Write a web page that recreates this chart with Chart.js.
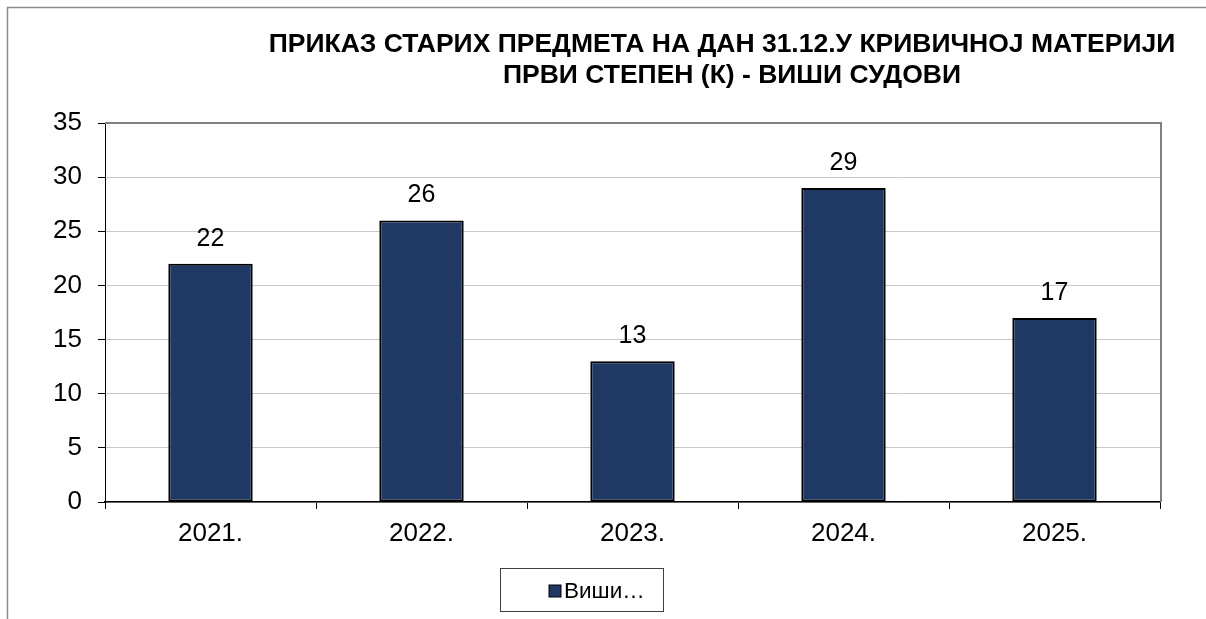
<!DOCTYPE html>
<html>
<head>
<meta charset="utf-8">
<script src="https://cdn.jsdelivr.net/npm/chart.js@4/dist/chart.umd.min.js"></script>
<style>
  html, body { margin: 0; padding: 0; background: #fff; }
  #wrap { position: relative; width: 1206px; height: 619px; }
</style>
</head>
<body>
<div id="wrap"><canvas id="chart" width="1206" height="619"></canvas></div>
<script>
const years = ["2021.", "2022.", "2023.", "2024.", "2025."];
const oldCases = [22, 26, 13, 29, 17];
const yTicks = [0, 5, 10, 15, 20, 25, 30, 35];
const titleLines = [
  "ПРИКАЗ СТАРИХ ПРЕДМЕТА НА ДАН 31.12.У КРИВИЧНОЈ МАТЕРИЈИ",
  "ПРВИ СТЕПЕН (К) - ВИШИ СУДОВИ"
];
const seriesName = "Виши судови";
const legendText = "Виши…";

const barColor = "#203864";
const baseFont = "'Liberation Sans', Arial, sans-serif";

// title, frame, value labels and boxed legend
const decorations = {
  id: "decorations",
  afterDraw(chart) {
    const ctx = chart.ctx;
    const area = chart.chartArea;
    ctx.save();

    // outer frame (only left and top visible in the crop)
    ctx.strokeStyle = "#8c8c8c";
    ctx.lineWidth = 1.5;
    ctx.beginPath();
    ctx.moveTo(7.5, 619);
    ctx.lineTo(7.5, 7.5);
    ctx.lineTo(1206, 7.5);
    ctx.stroke();

    // plot area top/right border
    ctx.strokeStyle = "#808080";
    ctx.lineWidth = 2;
    ctx.beginPath();
    ctx.moveTo(area.left, area.top);
    ctx.lineTo(area.right + 1, area.top);
    ctx.lineTo(area.right + 1, area.bottom);
    ctx.stroke();

    // title
    ctx.fillStyle = "#000";
    ctx.textAlign = "center";
    ctx.textBaseline = "alphabetic";
    ctx.font = "bold 26.5px " + baseFont;
    ctx.fillText(titleLines[0], 722, 52);
    ctx.fillText(titleLines[1], 732, 83);

    // value labels
    ctx.font = "25px " + baseFont;
    const meta = chart.getDatasetMeta(0);
    meta.data.forEach((bar, i) => {
      ctx.fillText(String(oldCases[i]), bar.x, bar.y - 18);
    });

    // legend box
    ctx.strokeStyle = "#404040";
    ctx.lineWidth = 1;
    ctx.fillStyle = "#fff";
    ctx.fillRect(500, 568, 163, 43);
    ctx.strokeRect(500.5, 568.5, 163, 43);
    ctx.fillStyle = barColor;
    ctx.fillRect(549, 585, 12, 12);
    ctx.strokeStyle = "#000";
    ctx.strokeRect(549, 585, 12, 12);
    ctx.fillStyle = "#000";
    ctx.textAlign = "left";
    ctx.textBaseline = "middle";
    ctx.font = "22.5px " + baseFont;
    ctx.fillText(legendText, 564, 592);

    ctx.restore();
  }
};

new Chart(document.getElementById("chart"), {
  type: "bar",
  data: {
    labels: years,
    datasets: [{
      label: seriesName,
      data: oldCases,
      backgroundColor: barColor,
      borderColor: "#000",
      borderWidth: 2,
      borderSkipped: false,
      barPercentage: 0.4,
      categoryPercentage: 1.0
    }]
  },
  options: {
    responsive: false,
    animation: false,
    layout: { padding: { left: 0, top: 123, right: 46, bottom: 0 } },
    plugins: {
      legend: { display: false },
      title: { display: false },
      tooltip: { enabled: false }
    },
    scales: {
      x: {
        afterFit(s) { s.height = 117; },
        grid: {
          offset: true,
          drawOnChartArea: false,
          drawTicks: true,
          tickLength: 7,
          tickColor: "#000",
          color: "#000"
        },
        border: { display: true, color: "#000", width: 1.5 },
        ticks: {
          color: "#000",
          padding: 9,
          font: { size: 26, family: baseFont }
        }
      },
      y: {
        min: 0,
        max: 35,
        afterFit(s) { s.width = 105; },
        afterBuildTicks(s) { s.ticks = yTicks.map(v => ({ value: v })); },
        grid: {
          color: "#c8c8c8",
          tickColor: "#000",
          tickLength: 7,
          lineWidth: 1
        },
        border: { display: true, color: "#000", width: 1 },
        ticks: {
          color: "#000",
          padding: 16,
          font: { size: 26, family: baseFont }
        }
      }
    }
  },
  plugins: [decorations]
});
</script>
</body>
</html>
